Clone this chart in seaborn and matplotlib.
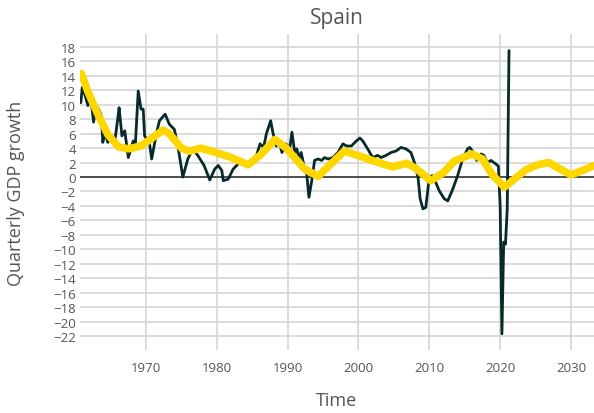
import numpy as np
import pandas as pd
import matplotlib
matplotlib.use("Agg")
import matplotlib.pyplot as plt
import seaborn as sns

gdp_time = [1960.8, 1961.0, 1961.4, 1961.8, 1962.2, 1962.6, 1962.9, 1963.3, 1963.7, 1963.9,
            1964.2, 1964.6, 1965.1, 1965.6, 1966.0, 1966.2, 1966.6, 1967.0, 1967.5, 1968.2,
            1968.5, 1968.9, 1969.3, 1969.6, 1969.8, 1970.5, 1970.8, 1971.5, 1971.9, 1972.7,
            1973.3, 1974.0, 1974.5, 1975.2, 1975.9, 1976.6, 1977.3, 1978.2, 1979.0, 1979.7,
            1980.2, 1980.7, 1980.9, 1981.6, 1982.3, 1983.2, 1984.2, 1985.0, 1985.6, 1986.1,
            1986.6, 1987.0, 1987.6, 1987.9, 1988.4, 1988.8, 1989.2, 1989.7, 1990.3, 1990.6,
            1991.0, 1991.3, 1991.6, 1991.9, 1992.3, 1992.7, 1993.0, 1993.4, 1993.8, 1994.3,
            1994.8, 1995.2, 1995.7, 1996.4, 1997.1, 1997.8, 1998.3, 1999.0, 1999.7, 2000.2,
            2000.6, 2001.3, 2002.0, 2002.7, 2003.2, 2003.9, 2004.6, 2005.3, 2006.0, 2006.7,
            2007.4, 2007.9, 2008.4, 2008.7, 2009.1, 2009.5, 2010.0, 2010.4, 2010.8, 2011.4,
            2012.1, 2012.6, 2013.3, 2014.0, 2014.7, 2015.4, 2015.7, 2016.1, 2016.7, 2017.3,
            2017.7, 2018.2, 2018.7, 2019.4, 2019.75, 2020.0, 2020.25, 2020.5, 2020.75, 2021.0,
            2021.25]
gdp_value = [10.3, 12.4, 11.3, 9.9, 11.0, 7.6, 9.9, 9.4, 8.5, 4.8,
             6.2, 4.8, 5.7, 5.0, 8.0, 9.6, 5.7, 6.4, 2.7, 5.0,
             4.6, 11.9, 9.4, 9.4, 5.7, 4.6, 2.5, 6.2, 7.8, 8.7,
             7.3, 6.6, 4.3, 0.0, 2.5, 3.9, 3.0, 1.6, -0.4, 1.1,
             1.6, 0.9, -0.5, -0.3, 1.1, 2.0, 1.6, 1.8, 3.0, 4.6,
             4.1, 6.0, 7.8, 6.2, 4.3, 4.8, 3.4, 4.6, 4.0, 6.2,
             3.4, 3.9, 2.5, 3.4, 1.6, 0.4, -2.8, -0.5, 2.3, 2.5,
             2.3, 2.7, 2.5, 2.7, 3.4, 4.6, 4.3, 4.3, 5.0, 5.4,
             5.0, 3.9, 2.7, 3.0, 2.7, 3.0, 3.4, 3.6, 4.1, 3.9,
             3.4, 2.0, 0.0, -3.0, -4.4, -4.2, 0.0, 0.2, -0.5, -1.9,
             -3.0, -3.3, -1.7, 0.2, 2.5, 3.9, 4.1, 3.6, 2.3, 3.2,
             3.0, 2.0, 2.3, 1.8, 1.5, -4.0, -21.7, -9.0, -9.3, -4.4,
             17.5]

# Smooth trend
trend_time = [1960.9, 1961.8, 1963.2, 1964.6, 1966.1, 1967.5, 1969.3, 1971.0, 1972.4, 1973.3,
              1975.0, 1976.1, 1977.8, 1979.5, 1981.8, 1984.4, 1986.1, 1988.2, 1989.8, 1992.4,
              1994.3, 1996.1, 1998.0, 2000.2, 2002.5, 2004.8, 2006.8, 2008.1, 2010.2, 2012.0,
              2013.5, 2016.0, 2017.5, 2018.9, 2020.6, 2022.0, 2023.6, 2025.3, 2026.9, 2028.3,
              2030.0, 2031.6, 2033.3]
trend_value = [14.3, 11.8, 8.7, 5.9, 4.2, 3.9, 4.3, 5.5, 6.5, 6.0,
               4.0, 3.6, 4.0, 3.5, 2.8, 1.7, 3.0, 5.2, 4.0, 1.1,
               0.1, 1.8, 3.6, 2.9, 2.1, 1.4, 1.9, 1.2, -0.5, 0.6,
               2.2, 3.2, 2.5, 0.3, -1.4, -0.3, 1.0, 1.7, 2.0, 1.2,
               0.3, 0.9, 1.6]

x_ticks = [1970, 1980, 1990, 2000, 2010, 2020, 2030]
y_ticks = list(range(-22, 19, 2))

df_gdp = pd.DataFrame({"Time": gdp_time, "Growth": gdp_value})
df_trend = pd.DataFrame({"Time": trend_time, "Growth": trend_value})

sns.set_style("whitegrid")
plt.rcParams["font.family"] = ["Open Sans", "DejaVu Sans"]
text_color = "#555555"

fig = plt.figure(figsize=(5.94, 4.14), dpi=100)
ax = fig.add_axes([80 / 594, 1 - 351 / 414, 1 - 80 / 594, (351 - 35) / 414])

ax.axhline(0, color="#444444", lw=1.3, zorder=1)
sns.lineplot(data=df_gdp, x="Time", y="Growth", ax=ax, color="#062a2a", lw=2.0,
             zorder=2, estimator=None, sort=False)
sns.lineplot(data=df_trend, x="Time", y="Growth", ax=ax, color="#FFD700", lw=5.5,
             zorder=3, estimator=None, sort=False)
for l in ax.lines[-1:]:
    l.set_solid_capstyle("round")
    l.set_solid_joinstyle("round")

ax.set_xlim(1960.68, 2033.25)
ax.set_ylim(-23.94, 19.8)
ax.set_xticks(x_ticks)
ax.set_yticks(y_ticks)
ax.set_yticklabels([str(v).replace("-", "\u2212") for v in y_ticks])
ax.grid(True, color="#d6d6d6", lw=1.2)
for s in ax.spines.values():
    s.set_visible(False)
ax.tick_params(axis="both", length=0, colors=text_color, labelsize=9.5)
ax.tick_params(axis="y", pad=3)
ax.tick_params(axis="x", pad=8)

ax.set_title("Spain", fontsize=15, color=text_color, pad=8)
ax.set_xlabel("Time", fontsize=13, color=text_color, labelpad=12)
ax.set_ylabel("Quarterly GDP growth", fontsize=13, color=text_color, labelpad=20)

fig.savefig("out.png", dpi=100)
